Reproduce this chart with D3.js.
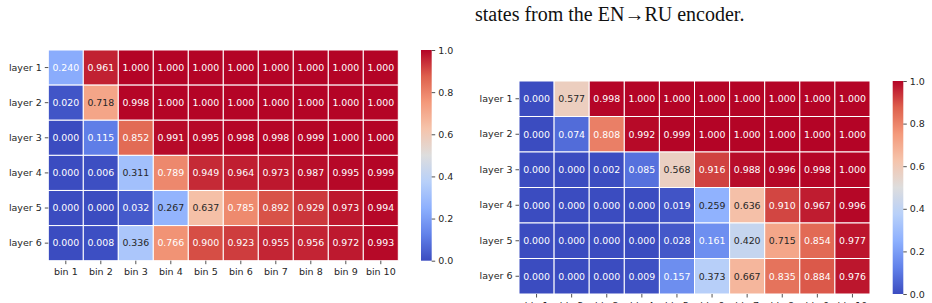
<!DOCTYPE html>
<html>
<head>
<meta charset="utf-8">
<script src="https://cdn.jsdelivr.net/npm/d3@7"></script>
<style>
  body { margin: 0; background: #fff; }
  svg { display: block; }
  .tick text { font-family: "DejaVu Sans", sans-serif; font-size: 9.5px; fill: #262626; }
  .tick line { stroke: #262626; stroke-width: 0.8; }
</style>
</head>
<body>
<div id="chart"></div>
<script>
// data
var layers = ["layer 1", "layer 2", "layer 3", "layer 4", "layer 5", "layer 6"];
var bins = ["bin 1", "bin 2", "bin 3", "bin 4", "bin 5", "bin 6", "bin 7", "bin 8", "bin 9", "bin 10"];
var cbTicks = [0, 0.2, 0.4, 0.6, 0.8, 1.0];

var leftValues = [
  [0.240, 0.961, 1.000, 1.000, 1.000, 1.000, 1.000, 1.000, 1.000, 1.000],
  [0.020, 0.718, 0.998, 1.000, 1.000, 1.000, 1.000, 1.000, 1.000, 1.000],
  [0.000, 0.115, 0.852, 0.991, 0.995, 0.998, 0.998, 0.999, 1.000, 1.000],
  [0.000, 0.006, 0.311, 0.789, 0.949, 0.964, 0.973, 0.987, 0.995, 0.999],
  [0.000, 0.000, 0.032, 0.267, 0.637, 0.785, 0.892, 0.929, 0.973, 0.994],
  [0.000, 0.008, 0.336, 0.766, 0.900, 0.923, 0.955, 0.956, 0.972, 0.993]
];

var rightValues = [
  [0.000, 0.577, 0.998, 1.000, 1.000, 1.000, 1.000, 1.000, 1.000, 1.000],
  [0.000, 0.074, 0.808, 0.992, 0.999, 1.000, 1.000, 1.000, 1.000, 1.000],
  [0.000, 0.000, 0.002, 0.085, 0.568, 0.916, 0.988, 0.996, 0.998, 1.000],
  [0.000, 0.000, 0.000, 0.000, 0.019, 0.259, 0.636, 0.910, 0.967, 0.996],
  [0.000, 0.000, 0.000, 0.000, 0.028, 0.161, 0.420, 0.715, 0.854, 0.977],
  [0.000, 0.000, 0.000, 0.009, 0.157, 0.373, 0.667, 0.835, 0.884, 0.976]
];

var captionText = "states from the EN\u2192RU encoder.";

// coolwarm, piecewise linear
var coolwarm = d3.piecewise(d3.interpolateRgb, ["#3b4cc0", "#6282ea", "#8db0fe", "#b8d0f9", "#dddddd",
  "#f5c4ac", "#f49a7b", "#de604d", "#b40426"]);
var color = d3.scaleSequential(coolwarm).domain([0, 1]);

function luminance(c) {
  var rgb = d3.rgb(c);
  var lin = [rgb.r, rgb.g, rgb.b].map(function(v) {
    v = v / 255;
    return v <= 0.03928 ? v / 12.92 : Math.pow((v + 0.055) / 1.055, 2.4);
  });
  return 0.2126 * lin[0] + 0.7152 * lin[1] + 0.0722 * lin[2];
}

var svg = d3.select("#chart").append("svg")
  .attr("width", 932)
  .attr("height", 303);

var defs = svg.append("defs");
var grad = defs.append("linearGradient")
  .attr("id", "cw")
  .attr("x1", 0).attr("y1", 1).attr("x2", 0).attr("y2", 0);
d3.range(0, 1.0001, 0.025).forEach(function(t) {
  grad.append("stop").attr("offset", t).attr("stop-color", color(t));
});

svg.append("text")
  .attr("x", 475)
  .attr("y", 21)
  .attr("font-family", "Liberation Serif, Times New Roman, serif")
  .attr("font-size", "20px")
  .attr("fill", "#111")
  .text(captionText);

function heatmap(values, box, cb) {
  var x = d3.scaleBand().domain(bins).range([box.x, box.x + box.w]);
  var y = d3.scaleBand().domain(layers).range([box.y, box.y + box.h]);

  var cells = [];
  values.forEach(function(row, i) {
    row.forEach(function(v, j) {
      cells.push({ layer: layers[i], bin: bins[j], v: v });
    });
  });

  var g = svg.append("g");
  g.selectAll("rect").data(cells).enter().append("rect")
    .attr("x", d => x(d.bin))
    .attr("y", d => y(d.layer))
    .attr("width", x.bandwidth())
    .attr("height", y.bandwidth())
    .attr("fill", d => color(d.v))
    .attr("stroke", "#fff")
    .attr("stroke-width", 1);

  g.selectAll("text.ann").data(cells).enter().append("text")
    .attr("class", "ann")
    .attr("x", d => x(d.bin) + x.bandwidth() / 2)
    .attr("y", d => y(d.layer) + y.bandwidth() / 2)
    .attr("dy", "0.35em")
    .attr("text-anchor", "middle")
    .attr("font-family", "DejaVu Sans, sans-serif")
    .attr("font-size", "9.4px")
    .attr("fill", d => luminance(color(d.v)) > 0.43 ? "#262626" : "#ffffff")
    .text(d => d3.format(".3f")(d.v));

  var xAxis = svg.append("g")
    .attr("transform", `translate(0, ${box.y + box.h})`)
    .call(d3.axisBottom(x).tickSize(3.5).tickPadding(4.5));
  xAxis.select(".domain").remove();

  var yAxis = svg.append("g")
    .attr("transform", `translate(${box.x}, 0)`)
    .call(d3.axisLeft(y).tickSize(3.5).tickPadding(3));
  yAxis.select(".domain").remove();

  // colorbar
  svg.append("rect")
    .attr("x", cb.x)
    .attr("y", box.y)
    .attr("width", cb.w)
    .attr("height", box.h)
    .attr("fill", "url(#cw)");

  var cScale = d3.scaleLinear().domain([0, 1]).range([box.y + box.h, box.y]);
  var cAxis = svg.append("g")
    .attr("transform", `translate(${cb.x + cb.w}, 0)`)
    .call(d3.axisRight(cScale).tickValues(cbTicks).tickFormat(d3.format(".1f")).tickSize(3.5).tickPadding(3));
  cAxis.select(".domain").remove();
}

heatmap(leftValues, { x: 48.3, y: 50, w: 350, h: 210.7 }, { x: 421, w: 10.7 });
heatmap(rightValues, { x: 519, y: 81, w: 351, h: 213 }, { x: 892.7, w: 10.6 });
</script>
</body>
</html>
